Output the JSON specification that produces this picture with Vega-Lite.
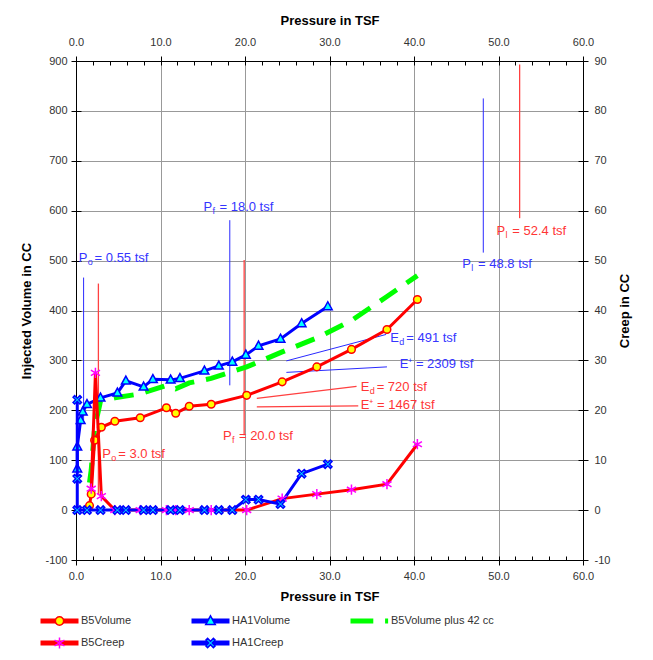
{
  "$schema": "https://vega.github.io/schema/vega-lite/v6.json",
  "autosize": {"type": "none"},
  "padding": {"left": 76, "top": 61, "right": 70, "bottom": 100},
  "width": 507,
  "height": 499,
  "config": {
    "font": "Liberation Sans",
    "view": {"stroke": null},
    "axis": {
      "labelFont": "Liberation Sans", "labelFontSize": 11, "labelColor": "#333333",
      "titleFont": "Liberation Sans", "titleFontSize": 13, "titleFontWeight": "bold", "titleColor": "#000000",
      "domainColor": "#000000", "tickColor": "#000000", "gridColor": "#999999", "gridOpacity": 1,
      "labelFlush": false, "labelOverlap": false
    }
  },
  "datasets": {
    "vol": [
      {"s": "B5Volume", "i": 0, "p": 1.6, "v": 9},
      {"s": "B5Volume", "i": 1, "p": 1.8, "v": 32},
      {"s": "B5Volume", "i": 2, "p": 2.2, "v": 140},
      {"s": "B5Volume", "i": 3, "p": 3.0, "v": 166},
      {"s": "B5Volume", "i": 4, "p": 4.6, "v": 178},
      {"s": "B5Volume", "i": 5, "p": 7.6, "v": 185},
      {"s": "B5Volume", "i": 6, "p": 10.7, "v": 205},
      {"s": "B5Volume", "i": 7, "p": 11.8, "v": 194},
      {"s": "B5Volume", "i": 8, "p": 13.4, "v": 208},
      {"s": "B5Volume", "i": 9, "p": 16.0, "v": 212},
      {"s": "B5Volume", "i": 10, "p": 20.2, "v": 230},
      {"s": "B5Volume", "i": 11, "p": 24.4, "v": 257},
      {"s": "B5Volume", "i": 12, "p": 28.5, "v": 287},
      {"s": "B5Volume", "i": 13, "p": 32.6, "v": 322},
      {"s": "B5Volume", "i": 14, "p": 36.8, "v": 362},
      {"s": "B5Volume", "i": 15, "p": 40.4, "v": 422},
      {"s": "HA1Volume", "i": 0, "p": 0.15, "v": 83},
      {"s": "HA1Volume", "i": 1, "p": 0.15, "v": 127},
      {"s": "HA1Volume", "i": 2, "p": 0.55, "v": 180},
      {"s": "HA1Volume", "i": 3, "p": 0.8, "v": 197},
      {"s": "HA1Volume", "i": 4, "p": 1.3, "v": 212},
      {"s": "HA1Volume", "i": 5, "p": 2.9, "v": 225},
      {"s": "HA1Volume", "i": 6, "p": 4.9, "v": 235},
      {"s": "HA1Volume", "i": 7, "p": 5.9, "v": 259},
      {"s": "HA1Volume", "i": 8, "p": 8.0, "v": 247},
      {"s": "HA1Volume", "i": 9, "p": 9.1, "v": 262},
      {"s": "HA1Volume", "i": 10, "p": 11.2, "v": 261},
      {"s": "HA1Volume", "i": 11, "p": 12.3, "v": 264},
      {"s": "HA1Volume", "i": 12, "p": 15.2, "v": 279},
      {"s": "HA1Volume", "i": 13, "p": 16.9, "v": 289},
      {"s": "HA1Volume", "i": 14, "p": 18.5, "v": 297},
      {"s": "HA1Volume", "i": 15, "p": 20.1, "v": 311},
      {"s": "HA1Volume", "i": 16, "p": 21.6, "v": 329},
      {"s": "HA1Volume", "i": 17, "p": 24.2, "v": 343},
      {"s": "HA1Volume", "i": 18, "p": 26.7, "v": 374},
      {"s": "HA1Volume", "i": 19, "p": 29.8, "v": 408},
      {"s": "B5Volume plus 42 cc", "i": 0, "p": 1.6, "v": 55},
      {"s": "B5Volume plus 42 cc", "i": 1, "p": 1.8, "v": 80},
      {"s": "B5Volume plus 42 cc", "i": 2, "p": 2.2, "v": 165},
      {"s": "B5Volume plus 42 cc", "i": 3, "p": 2.9, "v": 218},
      {"s": "B5Volume plus 42 cc", "i": 4, "p": 4.6, "v": 225},
      {"s": "B5Volume plus 42 cc", "i": 5, "p": 7.6, "v": 233},
      {"s": "B5Volume plus 42 cc", "i": 6, "p": 10.7, "v": 250},
      {"s": "B5Volume plus 42 cc", "i": 7, "p": 11.8, "v": 243},
      {"s": "B5Volume plus 42 cc", "i": 8, "p": 13.4, "v": 255},
      {"s": "B5Volume plus 42 cc", "i": 9, "p": 16.0, "v": 264},
      {"s": "B5Volume plus 42 cc", "i": 10, "p": 20.2, "v": 287},
      {"s": "B5Volume plus 42 cc", "i": 11, "p": 24.4, "v": 317},
      {"s": "B5Volume plus 42 cc", "i": 12, "p": 28.5, "v": 345},
      {"s": "B5Volume plus 42 cc", "i": 13, "p": 32.6, "v": 380},
      {"s": "B5Volume plus 42 cc", "i": 14, "p": 36.8, "v": 428},
      {"s": "B5Volume plus 42 cc", "i": 15, "p": 40.4, "v": 470}
    ],
    "creep": [
      {"s": "B5Creep", "i": 0, "p": 1.8, "c": 4.3},
      {"s": "B5Creep", "i": 1, "p": 2.3, "c": 27.5},
      {"s": "B5Creep", "i": 2, "p": 3.0, "c": 2.8},
      {"s": "B5Creep", "i": 3, "p": 4.6, "c": 0},
      {"s": "B5Creep", "i": 4, "p": 7.6, "c": 0},
      {"s": "B5Creep", "i": 5, "p": 10.7, "c": 0},
      {"s": "B5Creep", "i": 6, "p": 11.8, "c": 0},
      {"s": "B5Creep", "i": 7, "p": 13.4, "c": 0},
      {"s": "B5Creep", "i": 8, "p": 16.0, "c": 0},
      {"s": "B5Creep", "i": 9, "p": 20.2, "c": 0},
      {"s": "B5Creep", "i": 10, "p": 24.4, "c": 2.3},
      {"s": "B5Creep", "i": 11, "p": 28.5, "c": 3.2},
      {"s": "B5Creep", "i": 12, "p": 32.6, "c": 4.1},
      {"s": "B5Creep", "i": 13, "p": 36.8, "c": 5.2},
      {"s": "B5Creep", "i": 14, "p": 40.4, "c": 13.2},
      {"s": "HA1Creep", "i": 0, "p": 0.15, "c": 22.1},
      {"s": "HA1Creep", "i": 1, "p": 0.15, "c": 6.3},
      {"s": "HA1Creep", "i": 2, "p": 0.15, "c": 0},
      {"s": "HA1Creep", "i": 3, "p": 1.3, "c": 0},
      {"s": "HA1Creep", "i": 4, "p": 2.9, "c": 0},
      {"s": "HA1Creep", "i": 5, "p": 4.9, "c": 0},
      {"s": "HA1Creep", "i": 6, "p": 5.9, "c": 0},
      {"s": "HA1Creep", "i": 7, "p": 8.0, "c": 0},
      {"s": "HA1Creep", "i": 8, "p": 9.1, "c": 0},
      {"s": "HA1Creep", "i": 9, "p": 11.2, "c": 0},
      {"s": "HA1Creep", "i": 10, "p": 12.3, "c": 0},
      {"s": "HA1Creep", "i": 11, "p": 15.2, "c": 0},
      {"s": "HA1Creep", "i": 12, "p": 16.9, "c": 0},
      {"s": "HA1Creep", "i": 13, "p": 18.5, "c": 0},
      {"s": "HA1Creep", "i": 14, "p": 20.1, "c": 2.1},
      {"s": "HA1Creep", "i": 15, "p": 21.6, "c": 2.1},
      {"s": "HA1Creep", "i": 16, "p": 24.2, "c": 1.2},
      {"s": "HA1Creep", "i": 17, "p": 26.7, "c": 7.3},
      {"s": "HA1Creep", "i": 18, "p": 29.8, "c": 9.2}
    ],
    "lines": [
      {"test": "HA1", "p": 0.9, "v": 180, "p2": 0.9, "v2": 466},
      {"test": "HA1", "p": 18.2, "v": 250, "p2": 18.2, "v2": 581},
      {"test": "HA1", "p": 48.2, "v": 516, "p2": 48.2, "v2": 825},
      {"test": "HA1", "p": 24.9, "v": 299, "p2": 36.7, "v2": 352},
      {"test": "HA1", "p": 24.9, "v": 276, "p2": 36.8, "v2": 287},
      {"test": "B5", "p": 2.65, "v": 30, "p2": 2.65, "v2": 454},
      {"test": "B5", "p": 19.9, "v": 150, "p2": 19.9, "v2": 501},
      {"test": "B5", "p": 52.5, "v": 585, "p2": 52.5, "v2": 893},
      {"test": "B5", "p": 21.4, "v": 224, "p2": 33.2, "v2": 248},
      {"test": "B5", "p": 21.4, "v": 207, "p2": 33.4, "v2": 209}
    ],
    "notes": [
      {"test": "HA1", "p": 0.32, "v": 505, "t": "P\u00a0\u00a0= 0.55 tsf", "sub": "o"},
      {"test": "HA1", "p": 15.1, "v": 607, "t": "P\u00a0\u00a0= 18.0 tsf", "sub": "f"},
      {"test": "HA1", "p": 45.7, "v": 494, "t": "P\u00a0\u00a0= 48.8 tsf", "sub": "l"},
      {"test": "HA1", "p": 37.2, "v": 345, "t": "E\u00a0\u00a0= 491 tsf", "sub": "d"},
      {"test": "HA1", "p": 38.3, "v": 293, "t": "E⁺ = 2309 tsf", "sub": ""},
      {"test": "B5", "p": 3.12, "v": 112, "t": "P\u00a0\u00a0= 3.0 tsf", "sub": "o"},
      {"test": "B5", "p": 17.4, "v": 149, "t": "P\u00a0\u00a0= 20.0 tsf", "sub": "f"},
      {"test": "B5", "p": 49.75, "v": 559, "t": "P\u00a0\u00a0= 52.4 tsf", "sub": "l"},
      {"test": "B5", "p": 33.7, "v": 247, "t": "E\u00a0\u00a0= 720 tsf", "sub": "d"},
      {"test": "B5", "p": 33.7, "v": 210, "t": "E⁺ = 1467 tsf", "sub": ""}
    ]
  },
  "layer": [
    {
      "layer": [
        {
          "data": {"name": "lines"},
          "transform": [{"filter": "datum.test == 'HA1'"}],
          "mark": {"type": "rule", "color": "#2a2aff", "strokeWidth": 1},
          "encoding": {
            "x": {"field": "p", "type": "quantitative", "title": "Pressure in TSF",
              "scale": {"domain": [0, 60], "nice": false, "zero": false},
              "axis": {"orient": "bottom", "values": [0, 10, 20, 30, 40, 50, 60], "format": ".1f", "grid": true, "tickSize": 5, "labelPadding": 5, "titlePadding": 9}},
            "y": {"field": "v", "type": "quantitative", "title": "Injected Volume in CC",
              "scale": {"domain": [-100, 900], "nice": false, "zero": false},
              "axis": {"orient": "left", "values": [-100, 0, 100, 200, 300, 400, 500, 600, 700, 800, 900], "labelExpr": "toString(datum.value)", "grid": true, "tickSize": 5, "labelPadding": 4, "titlePadding": 11}},
            "x2": {"field": "p2"},
            "y2": {"field": "v2"}
          }
        },
        {
          "data": {"name": "lines"},
          "transform": [{"filter": "datum.test == 'B5'"}],
          "mark": {"type": "rule", "color": "#ff4040", "strokeWidth": 1.3},
          "encoding": {
            "x": {"field": "p", "type": "quantitative", "title": "Pressure in TSF"},
            "y": {"field": "v", "type": "quantitative", "title": "Injected Volume in CC"},
            "x2": {"field": "p2"},
            "y2": {"field": "v2"}
          }
        },
        {
          "data": {"name": "vol"},
          "transform": [{"filter": {"field": "s", "equal": "B5Volume plus 42 cc"}}],
          "mark": {"type": "line", "strokeWidth": 5, "strokeDash": [20, 12]},
          "encoding": {
            "x": {"field": "p", "type": "quantitative", "title": "Pressure in TSF"},
            "y": {"field": "v", "type": "quantitative", "title": "Injected Volume in CC"},
            "order": {"field": "i"},
            "color": {"field": "s", "type": "nominal",
              "scale": {"domain": ["B5Volume", "HA1Volume", "B5Volume plus 42 cc", "B5Creep", "HA1Creep"], "range": ["#ff0000", "#0000ff", "#00ff00", "#ff0000", "#0000ff"]},
              "legend": {"orient": "none", "legendX": -38, "legendY": 552, "direction": "horizontal", "columns": 3, "columnPadding": 57, "rowPadding": 6, "clipHeight": 16, "symbolSize": 1444, "symbolStrokeWidth": 5, "symbolOffset": 0, "labelOffset": 0, "labelFontSize": 11, "labelFont": "Liberation Sans", "labelColor": "#333333", "title": null, "padding": 0,
                "encode": {"symbols": {"update": {"shape": {"signal": "datum.value === 'B5Volume plus 42 cc' ? 'M-1,0H0.2M0.82,0H0.98' : 'M-1,0H1'"}, "strokeDash": {"value": [1, 0]}, "fill": {"value": "transparent"}, "opacity": {"value": 1}}}}}}
          }
        },
        {
          "data": {"name": "vol"},
          "transform": [{"filter": {"field": "s", "oneOf": ["B5Volume", "HA1Volume"]}}],
          "mark": {"type": "line", "strokeWidth": 3},
          "encoding": {
            "x": {"field": "p", "type": "quantitative", "title": "Pressure in TSF"},
            "y": {"field": "v", "type": "quantitative", "title": "Injected Volume in CC"},
            "order": {"field": "i"},
            "color": {"field": "s", "type": "nominal"}
          }
        },
        {
          "data": {"name": "vol"},
          "transform": [{"filter": {"field": "s", "oneOf": ["B5Volume", "HA1Volume"]}}],
          "mark": {"type": "point", "size": 1444, "strokeWidth": 1.5, "opacity": 1, "filled": true},
          "encoding": {
            "x": {"field": "p", "type": "quantitative", "title": "Pressure in TSF"},
            "y": {"field": "v", "type": "quantitative", "title": "Injected Volume in CC"},
            "shape": {"field": "s", "type": "nominal",
              "scale": {"domain": ["B5Volume", "HA1Volume", "B5Volume plus 42 cc", "B5Creep", "HA1Creep", " "],
                "range": [
                  "M-0.2,0A0.2,0.2,0,1,1,0.2,0A0.2,0.2,0,1,1,-0.2,0Z",
                  "M0,-0.25L0.23,0.17L-0.23,0.17Z",
                  "M0,0",
                  "M0,-0.27V0.27M-0.24,-0.14L0.24,0.14M-0.24,0.14L0.24,-0.14",
                  "M-0.22,-0.14L-0.14,-0.22L0,-0.08L0.14,-0.22L0.22,-0.14L0.08,0L0.22,0.14L0.14,0.22L0,0.08L-0.14,0.22L-0.22,0.14L-0.08,0Z",
                  "M0,0"]},
              "legend": {"orient": "none", "legendX": -38, "legendY": 552, "direction": "horizontal", "columns": 3, "columnPadding": 57, "rowPadding": 6, "clipHeight": 16, "symbolSize": 1722, "symbolStrokeWidth": 1.5, "symbolOffset": 0, "labelOffset": 0, "labelFontSize": 11, "labelFont": "Liberation Sans", "labelOpacity": 0, "title": null, "padding": 0}},
            "fill": {"field": "s", "type": "nominal",
              "scale": {"domain": ["B5Volume", "HA1Volume", "B5Volume plus 42 cc", "B5Creep", "HA1Creep", " "], "range": ["#ffff00", "#00ffff", "transparent", "transparent", "#00ffff", "transparent"]},
              "legend": {"orient": "none", "legendX": -38, "legendY": 552, "direction": "horizontal", "columns": 3, "columnPadding": 57, "rowPadding": 6, "clipHeight": 16, "symbolSize": 1722, "symbolStrokeWidth": 1.5, "symbolOffset": 0, "labelOffset": 0, "labelFontSize": 11, "labelFont": "Liberation Sans", "labelOpacity": 0, "title": null, "padding": 0}},
            "stroke": {"field": "s", "type": "nominal",
              "scale": {"domain": ["B5Volume", "HA1Volume", "B5Volume plus 42 cc", "B5Creep", "HA1Creep", " "], "range": ["#ff0000", "#0000ff", "transparent", "#ff00ff", "#0000ff", "transparent"]},
              "legend": {"orient": "none", "legendX": -38, "legendY": 552, "direction": "horizontal", "columns": 3, "columnPadding": 57, "rowPadding": 6, "clipHeight": 16, "symbolSize": 1722, "symbolStrokeWidth": 1.5, "symbolOffset": 0, "labelOffset": 0, "labelFontSize": 11, "labelFont": "Liberation Sans", "labelOpacity": 0, "title": null, "padding": 0}}
          }
        },
        {
          "data": {"name": "notes"},
          "transform": [{"filter": "datum.test == 'HA1'"}],
          "mark": {"type": "text", "align": "left", "baseline": "middle", "fontSize": 13, "font": "Liberation Sans", "color": "#3535ff"},
          "encoding": {
            "x": {"field": "p", "type": "quantitative", "title": "Pressure in TSF"},
            "y": {"field": "v", "type": "quantitative", "title": "Injected Volume in CC"},
            "text": {"field": "t"}
          }
        },
        {
          "data": {"name": "notes"},
          "transform": [{"filter": "datum.test == 'HA1'"}],
          "mark": {"type": "text", "align": "left", "baseline": "middle", "fontSize": 9, "font": "Liberation Sans", "color": "#3535ff", "dx": 9, "dy": 4},
          "encoding": {
            "x": {"field": "p", "type": "quantitative", "title": "Pressure in TSF"},
            "y": {"field": "v", "type": "quantitative", "title": "Injected Volume in CC"},
            "text": {"field": "sub"}
          }
        },
        {
          "data": {"name": "notes"},
          "transform": [{"filter": "datum.test == 'B5'"}],
          "mark": {"type": "text", "align": "left", "baseline": "middle", "fontSize": 13, "font": "Liberation Sans", "color": "#ff3535"},
          "encoding": {
            "x": {"field": "p", "type": "quantitative", "title": "Pressure in TSF"},
            "y": {"field": "v", "type": "quantitative", "title": "Injected Volume in CC"},
            "text": {"field": "t"}
          }
        },
        {
          "data": {"name": "notes"},
          "transform": [{"filter": "datum.test == 'B5'"}],
          "mark": {"type": "text", "align": "left", "baseline": "middle", "fontSize": 9, "font": "Liberation Sans", "color": "#ff3535", "dx": 9, "dy": 4},
          "encoding": {
            "x": {"field": "p", "type": "quantitative", "title": "Pressure in TSF"},
            "y": {"field": "v", "type": "quantitative", "title": "Injected Volume in CC"},
            "text": {"field": "sub"}
          }
        }
      ]
    },
    {
      "layer": [
        {
          "data": {"name": "creep"},
          "mark": {"type": "line", "strokeWidth": 3},
          "encoding": {
            "x": {"field": "p", "type": "quantitative", "title": "Pressure in TSF",
              "scale": {"domain": [0, 60], "nice": false, "zero": false},
              "axis": {"orient": "top", "values": [0, 10, 20, 30, 40, 50, 60], "format": ".1f", "grid": false, "tickSize": 5, "labelPadding": 9, "titlePadding": 9}},
            "y": {"field": "c", "type": "quantitative", "title": "Creep in CC",
              "scale": {"domain": [-10, 90], "nice": false, "zero": false},
              "axis": {"orient": "right", "values": [-10, 0, 10, 20, 30, 40, 50, 60, 70, 80, 90], "labelExpr": "toString(datum.value)", "grid": false, "tickSize": 5, "labelPadding": 6, "titlePadding": 22, "titleAngle": 270}},
            "order": {"field": "i"},
            "color": {"field": "s", "type": "nominal",
              "legend": {"orient": "none", "legendX": -38, "legendY": 552, "direction": "horizontal", "columns": 3, "columnPadding": 57, "rowPadding": 6, "clipHeight": 16, "symbolSize": 1444, "symbolStrokeWidth": 5, "symbolOffset": 0, "labelOffset": 0, "labelFontSize": 11, "labelFont": "Liberation Sans", "labelColor": "#333333", "title": null, "padding": 0,
                "encode": {"symbols": {"update": {"shape": {"signal": "datum.value === 'B5Volume plus 42 cc' ? 'M-1,0H0.2M0.82,0H0.98' : 'M-1,0H1'"}, "strokeDash": {"value": [1, 0]}, "fill": {"value": "transparent"}, "opacity": {"value": 1}}}}}}
          }
        },
        {
          "data": {"name": "creep"},
          "mark": {"type": "point", "size": 1444, "strokeWidth": 1.5, "opacity": 1, "filled": true},
          "encoding": {
            "x": {"field": "p", "type": "quantitative", "title": "Pressure in TSF"},
            "y": {"field": "c", "type": "quantitative", "title": "Creep in CC"},
            "shape": {"field": "s", "type": "nominal"},
            "fill": {"field": "s", "type": "nominal"},
            "stroke": {"field": "s", "type": "nominal"}
          }
        }
      ]
    },
    {
      "data": {"name": "vol"},
      "mark": {"type": "point", "opacity": 0},
      "encoding": {
        "x": {"field": "p", "type": "quantitative", "scale": {"domain": [0, 60], "nice": false, "zero": false},
          "axis": {"orient": "bottom", "values": [0, 2, 4, 6, 8, 10, 12, 14, 16, 18, 20, 22, 24, 26, 28, 30, 32, 34, 36, 38, 40, 42, 44, 46, 48, 50, 52, 54, 56, 58, 60], "labels": false, "grid": false, "domain": false, "tickSize": -4, "title": null}},
        "y": {"field": "v", "type": "quantitative", "scale": {"domain": [-100, 900], "nice": false, "zero": false},
          "axis": {"orient": "left", "values": [-100, 0, 100, 200, 300, 400, 500, 600, 700, 800, 900], "labels": false, "grid": false, "domain": false, "tickSize": -5, "title": null}}
      }
    },
    {
      "data": {"name": "vol"},
      "mark": {"type": "point", "opacity": 0},
      "encoding": {
        "x": {"field": "p", "type": "quantitative", "scale": {"domain": [0, 60], "nice": false, "zero": false},
          "axis": {"orient": "top", "values": [0, 2, 4, 6, 8, 10, 12, 14, 16, 18, 20, 22, 24, 26, 28, 30, 32, 34, 36, 38, 40, 42, 44, 46, 48, 50, 52, 54, 56, 58, 60], "labels": false, "grid": false, "domain": false, "tickSize": -4, "title": null}},
        "y": {"field": "v", "type": "quantitative", "scale": {"domain": [-100, 900], "nice": false, "zero": false},
          "axis": {"orient": "right", "values": [-100, 0, 100, 200, 300, 400, 500, 600, 700, 800, 900], "labels": false, "grid": false, "domain": false, "tickSize": -5, "title": null}}
      }
    }
  ],
  "resolve": {"scale": {"y": "independent"}, "axis": {"x": "independent", "y": "independent"}}
}
